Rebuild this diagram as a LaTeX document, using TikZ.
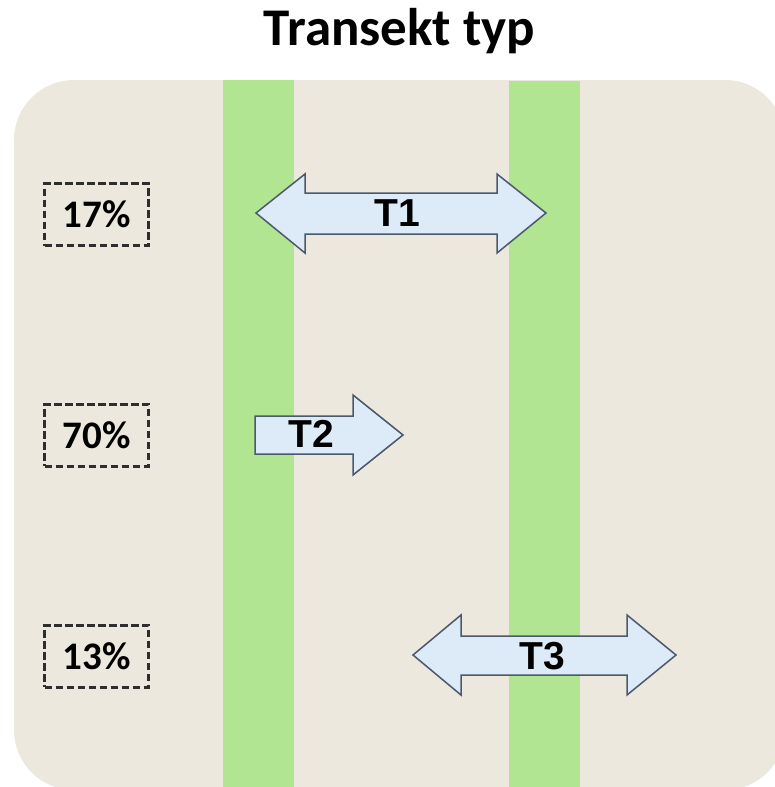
\documentclass[tikz,border=0pt]{standalone}
\usepackage{fontspec}
\setmainfont{Carlito}
\newfontfamily\arialfam{Liberation Sans}
\definecolor{panelbg}{HTML}{ECE8DD}
\definecolor{stripe}{HTML}{B2E592}
\definecolor{arrowfill}{HTML}{DDEAF7}
\definecolor{arrowline}{HTML}{4A5A6C}
\definecolor{boxline}{HTML}{2E2E2E}
\begin{document}
\begin{tikzpicture}[x=1pt,y=-1pt,
  transarrow/.style={fill=arrowfill,draw=arrowline,line width=1.5pt,line join=miter},
  arrowlabel/.style={inner sep=0pt,font=\arialfam\bfseries\fontsize{39}{44}\selectfont},
  sharebox/.style={draw=boxline,dash pattern=on 7.5pt off 3.5pt,line width=3pt,
    minimum width=104pt,minimum height=62pt,inner sep=0pt,
    font=\bfseries\fontsize{39}{44}\selectfont},
  titletext/.style={inner sep=0pt,anchor=base,font=\bfseries\fontsize{53}{60}\selectfont}]
  \useasboundingbox (0,0) rectangle (775,787);
  \begin{scope}
    \clip (0,0) rectangle (775,787);
    % panel
    \fill[panelbg,rounded corners=60pt] (14,80) rectangle (785,790);
    % vertical stripes
    \fill[stripe] (223,80) rectangle (294,790);
    \fill[stripe] (509,81) rectangle (580,790);
  \end{scope}
  % title
  \node[titletext] (title) at (399.5,45) {Transekt typ};
  % transect arrows
  \draw[transarrow] (256,213) -- (305,174) -- (305,193) -- (497,193) -- (497,174)
    -- (546,213) -- (497,253) -- (497,234) -- (305,234) -- (305,253) -- cycle;
  \draw[transarrow] (255,416) -- (353,416) -- (353,395) -- (403,435) -- (353,475)
    -- (353,454) -- (255,454) -- cycle;
  \draw[transarrow] (413,655) -- (461,615) -- (461,636) -- (627,636) -- (627,615)
    -- (676,655) -- (627,695) -- (627,675) -- (461,675) -- (461,695) -- cycle;
  \node[arrowlabel] (t1) at (397,213) {T1};
  \node[arrowlabel] (t2) at (311,434) {T2};
  \node[arrowlabel] (t3) at (542,656) {T3};
  % shares
  \node[sharebox] (p17) at (96.5,214.5) {17\%};
  \node[sharebox] (p70) at (96.5,435) {70\%};
  \node[sharebox] (p13) at (96.5,656) {13\%};
\end{tikzpicture}
\end{document}
